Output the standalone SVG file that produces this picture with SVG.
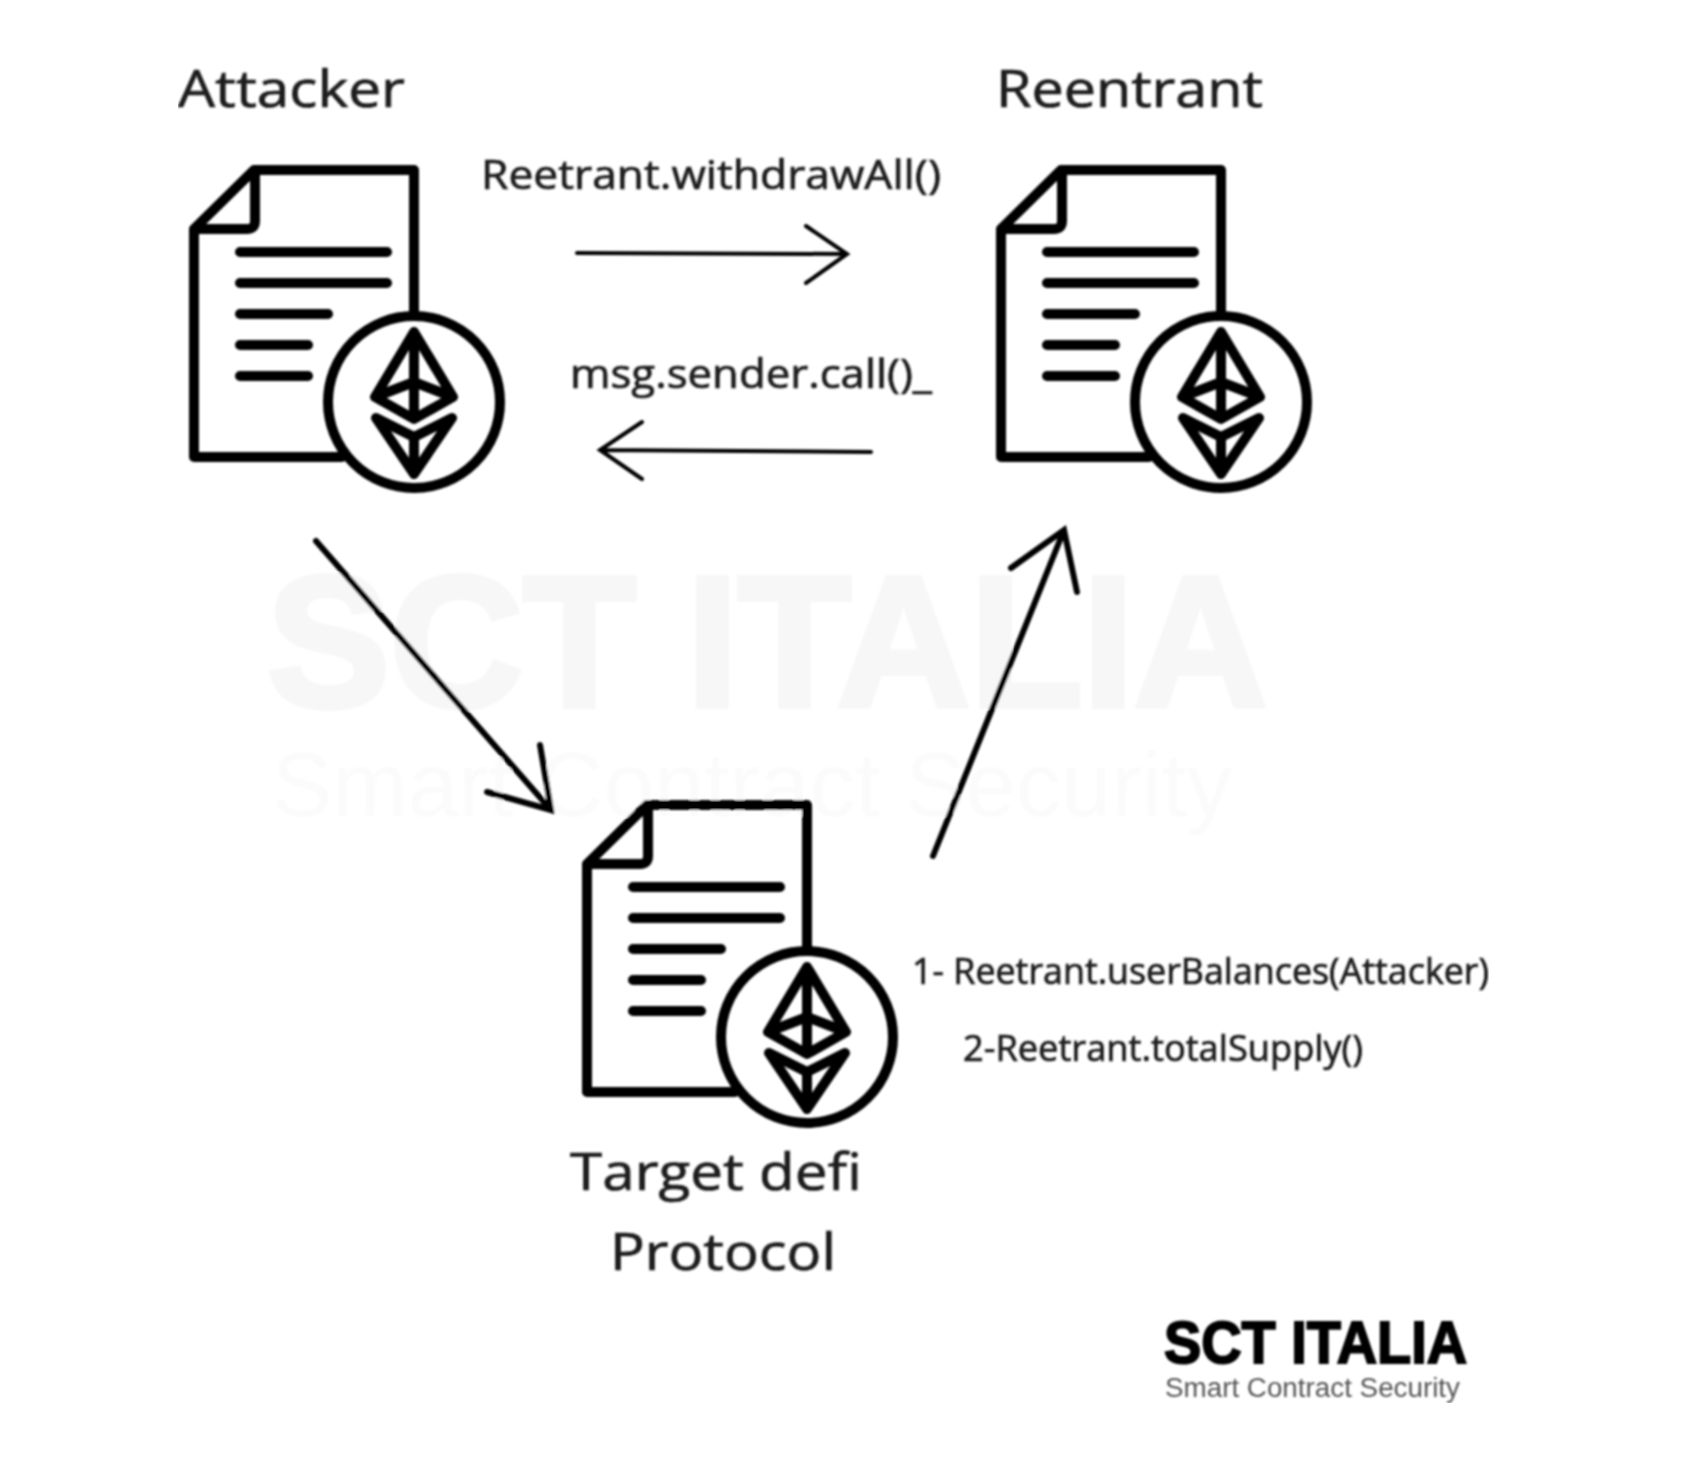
<svg xmlns="http://www.w3.org/2000/svg" width="1694" height="1484" viewBox="0 0 1694 1484">
<style>
.t{font-family:"Open Sans","Noto Sans","DejaVu Sans",sans-serif;fill:#1c1c1c;stroke:#1c1c1c;stroke-width:0.7}
.h{font-size:52px}
.s{font-size:41px}
.m{font-size:36px}
.wm{font-family:"Liberation Sans",Arial,sans-serif}
.i{fill:none;stroke:#000;stroke-width:10;stroke-linecap:round;stroke-linejoin:round}
.c{fill:none;stroke:#000;stroke-linecap:round;stroke-linejoin:miter}
</style>
<defs>
<filter id="b" x="0" y="0" width="1" height="1" filterUnits="objectBoundingBox"><feGaussianBlur stdDeviation="0.9"/></filter>
<g id="icon">
<path class="i" d="M194 229L254 170H414V312M194 229V457H342M194 229H247Q255 229 255 221V170"/>
<path class="i" d="M240 252H387M240 283H387M240 314H328M240 345H308M240 376H308"/>
<circle class="i" cx="414" cy="402" r="86"/>
<path class="i" d="M414 332L375 397L414 419L453 397ZM414 332V419M375 397L414 382L453 397"/>
<path class="i" d="M376 418L414 437L452 418L414 474ZM414 437V474"/>
</g>
</defs>
<rect width="1694" height="1484" fill="#fff"/>
<g filter="url(#b)">
<g id="watermark">
<text class="wm" x="267" y="706" font-size="186" font-weight="700" fill="#f7f7f7" stroke="#f7f7f7" stroke-width="6" textLength="1000" lengthAdjust="spacingAndGlyphs">SCT ITALIA</text>
<text class="wm" x="272" y="816" font-size="90" fill="#fbfbfb" textLength="960" lengthAdjust="spacingAndGlyphs">Smart Contract Security</text>
</g>
<g id="attacker">
<use href="#icon"/>
<text class="t h" x="178" y="107" textLength="227" lengthAdjust="spacingAndGlyphs">Attacker</text>
</g>
<g id="reentrant">
<use href="#icon" x="807"/>
<text class="t h" x="996" y="107" textLength="267" lengthAdjust="spacingAndGlyphs">Reentrant</text>
</g>
<g id="target">
<use href="#icon" x="393" y="635"/>
<text class="t h" x="570" y="1190" textLength="292" lengthAdjust="spacingAndGlyphs">Target defi</text>
<text class="t h" x="610" y="1270" textLength="226" lengthAdjust="spacingAndGlyphs">Protocol</text>
</g>
<g id="connectors">
<path class="c" stroke-width="4" d="M577 253L847 254M806 226L847 254L806 283"/>
<path class="c" stroke-width="4" d="M871 452L600 450M642 422L600 450L642 479"/>
<path class="c" stroke-width="6" d="M316 541L551 810M540 745L551 810L487 792"/>
<path class="c" stroke-width="6" d="M933 856L1064 530M1011 568L1064 530L1077 592"/>
</g>
<g id="labels">
<text class="t s" x="481" y="189" textLength="460" lengthAdjust="spacingAndGlyphs">Reetrant.withdrawAll()</text>
<text class="t s" x="570" y="388" textLength="362" lengthAdjust="spacingAndGlyphs">msg.sender.call()_</text>
<text class="t m" x="912" y="984" textLength="577" lengthAdjust="spacingAndGlyphs">1- Reetrant.userBalances(Attacker)</text>
<text class="t m" x="963" y="1061" textLength="400" lengthAdjust="spacingAndGlyphs">2-Reetrant.totalSupply()</text>
</g>
<g id="logo">
<text class="wm" x="1164" y="1363" font-size="60" font-weight="700" fill="#000" stroke="#000" stroke-width="2" textLength="303" lengthAdjust="spacingAndGlyphs">SCT ITALIA</text>
<text class="wm" x="1165" y="1397" font-size="27" fill="#555" textLength="295" lengthAdjust="spacingAndGlyphs">Smart Contract Security</text>
</g>
</g>
</svg>
